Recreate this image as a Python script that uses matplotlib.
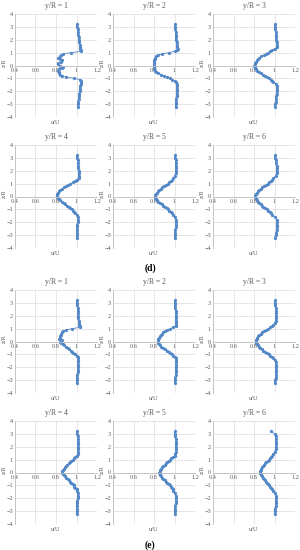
import matplotlib
matplotlib.use("Agg")
import matplotlib.pyplot as plt

# shared sampling heights z/R
z_pos = [3.2, 3.0, 2.8, 2.6, 2.4, 2.2, 2.0, 1.8, 1.6, 1.4,
         1.3, 1.2, 1.1, 1.0, 0.9, 0.8, 0.7, 0.6, 0.5, 0.4, 0.3, 0.2, 0.1, 0.0,
         -0.1, -0.2, -0.3, -0.4, -0.5, -0.6, -0.7, -0.8, -0.9, -1.0, -1.1, -1.2, -1.3,
         -1.4, -1.6, -1.8, -2.0, -2.2, -2.4, -2.6, -2.8, -3.0, -3.2]

panel_titles = ["y/R = 1", "y/R = 2", "y/R = 3", "y/R = 4", "y/R = 5", "y/R = 6"]
x_ticks = [0.4, 0.6, 0.8, 1.0, 1.2]
x_tick_labels = ["0.4", "0.6", "0.8", "1", "1.2"]
y_ticks = [-4, -3, -2, -1, 0, 1, 2, 3, 4]
group_labels = ["(d)", "(e)"]

# (d) profiles
d1 = [1.00, 1.00, 1.01, 1.01, 1.01, 1.02, 1.02, 1.02, 1.03, 1.03,
      1.03, 1.04, 1.04, 0.95, 0.87, 0.85, 0.84, 0.82, 0.84, 0.86, 0.85, 0.82, 0.82, 0.84,
      0.87, 0.86, 0.83, 0.82, 0.83, 0.83, 0.84, 0.86, 0.90, 0.98, 1.03, 1.04, 1.04,
      1.04, 1.03, 1.03, 1.03, 1.02, 1.02, 1.02, 1.01, 1.01, 1.01]
d2 = [1.00, 1.00, 1.00, 1.01, 1.01, 1.01, 1.01, 1.02, 1.02, 1.02,
      1.03, 1.02, 1.00, 0.95, 0.88, 0.84, 0.82, 0.81, 0.81, 0.80, 0.80, 0.80, 0.80, 0.80,
      0.80, 0.80, 0.80, 0.81, 0.82, 0.84, 0.87, 0.90, 0.93, 0.96, 0.98, 1.00, 1.01,
      1.02, 1.02, 1.02, 1.02, 1.02, 1.02, 1.01, 1.01, 1.01, 1.01]
d3 = [1.00, 1.00, 1.00, 1.01, 1.01, 1.01, 1.01, 1.02, 1.02, 1.02,
      1.00, 0.98, 0.96, 0.94, 0.92, 0.90, 0.87, 0.85, 0.84, 0.83, 0.82, 0.81, 0.81, 0.80,
      0.81, 0.81, 0.82, 0.83, 0.85, 0.87, 0.89, 0.91, 0.93, 0.95, 0.97, 0.98, 0.99,
      1.01, 1.02, 1.02, 1.02, 1.02, 1.01, 1.01, 1.01, 1.00, 1.00]
d4 = [1.00, 1.00, 1.01, 1.01, 1.01, 1.01, 1.02, 1.02, 1.02, 1.02,
      1.00, 0.99, 0.97, 0.94, 0.92, 0.90, 0.88, 0.86, 0.84, 0.83, 0.82, 0.81, 0.81, 0.81,
      0.82, 0.83, 0.84, 0.86, 0.88, 0.89, 0.91, 0.93, 0.94, 0.96, 0.97, 0.98, 0.99,
      1.00, 1.01, 1.01, 1.01, 1.00, 1.00, 1.00, 1.00, 1.00, 1.00]
d5 = [1.00, 1.00, 1.01, 1.01, 1.01, 1.01, 1.01, 1.01, 1.00, 0.99,
      0.98, 0.97, 0.95, 0.94, 0.92, 0.90, 0.88, 0.87, 0.85, 0.84, 0.83, 0.82, 0.81, 0.81,
      0.81, 0.82, 0.83, 0.84, 0.86, 0.88, 0.89, 0.91, 0.93, 0.94, 0.95, 0.97, 0.98,
      0.99, 1.00, 1.01, 1.01, 1.01, 1.01, 1.00, 1.00, 1.00, 1.00]
d6 = [1.00, 1.00, 1.01, 1.01, 1.02, 1.02, 1.02, 1.02, 1.01, 0.99,
      0.98, 0.97, 0.95, 0.94, 0.92, 0.90, 0.88, 0.87, 0.85, 0.84, 0.83, 0.82, 0.81, 0.81,
      0.82, 0.82, 0.83, 0.84, 0.85, 0.87, 0.88, 0.89, 0.91, 0.93, 0.94, 0.96, 0.97,
      0.98, 1.00, 1.02, 1.02, 1.02, 1.02, 1.02, 1.01, 1.01, 1.00]

# (e) profiles
e1 = [1.00, 1.00, 1.00, 1.01, 1.01, 1.01, 1.01, 1.01, 1.02, 1.02,
      1.02, 1.03, 1.03, 0.96, 0.90, 0.87, 0.86, 0.85, 0.85, 0.84, 0.84, 0.83, 0.86, 0.84,
      0.85, 0.87, 0.88, 0.90, 0.92, 0.93, 0.95, 0.96, 0.97, 0.99, 1.00, 1.01, 1.01,
      1.01, 1.01, 1.01, 1.01, 1.01, 1.01, 1.00, 1.00, 1.00, 1.00]
e2 = [1.00, 1.00, 1.00, 1.00, 1.01, 1.01, 1.01, 1.01, 1.01, 1.01,
      1.01, 1.01, 0.99, 0.96, 0.93, 0.91, 0.89, 0.88, 0.87, 0.86, 0.85, 0.84, 0.84, 0.84,
      0.84, 0.85, 0.86, 0.87, 0.89, 0.91, 0.93, 0.95, 0.96, 0.98, 0.99, 1.00, 1.01,
      1.01, 1.01, 1.01, 1.01, 1.01, 1.01, 1.01, 1.00, 1.00, 1.00]
e3 = [1.00, 1.00, 1.00, 1.01, 1.01, 1.01, 1.01, 1.01, 1.01, 1.00,
      0.99, 0.98, 0.96, 0.94, 0.92, 0.90, 0.88, 0.87, 0.85, 0.84, 0.83, 0.83, 0.82, 0.82,
      0.82, 0.83, 0.84, 0.85, 0.86, 0.88, 0.89, 0.91, 0.93, 0.95, 0.96, 0.98, 0.99,
      1.00, 1.01, 1.01, 1.01, 1.01, 1.01, 1.01, 1.01, 1.00, 1.00]
e4 = [1.00, 1.00, 1.01, 1.01, 1.01, 1.01, 1.01, 1.01, 1.01, 1.01,
      1.00, 0.99, 0.98, 0.97, 0.95, 0.94, 0.93, 0.91, 0.90, 0.89, 0.88, 0.87, 0.86, 0.86,
      0.87, 0.88, 0.89, 0.90, 0.92, 0.93, 0.94, 0.95, 0.97, 0.98, 0.98, 0.99, 1.00,
      1.00, 1.01, 1.01, 1.01, 1.00, 1.00, 1.00, 1.00, 1.00, 1.00]
e5 = [1.00, 1.00, 1.00, 1.01, 1.01, 1.01, 1.01, 1.01, 1.01, 1.00,
      1.00, 0.99, 0.97, 0.96, 0.95, 0.93, 0.92, 0.91, 0.89, 0.88, 0.87, 0.86, 0.86, 0.85,
      0.86, 0.86, 0.87, 0.88, 0.89, 0.91, 0.92, 0.93, 0.95, 0.96, 0.97, 0.98, 0.99,
      0.99, 1.00, 1.01, 1.01, 1.01, 1.01, 1.00, 1.00, 1.00, 1.00]
e6 = [0.97, 1.00, 1.01, 1.01, 1.01, 1.01, 1.01, 1.01, 1.00, 0.99,
      0.98, 0.97, 0.96, 0.95, 0.94, 0.92, 0.91, 0.90, 0.89, 0.88, 0.87, 0.87, 0.86, 0.86,
      0.87, 0.87, 0.88, 0.89, 0.90, 0.91, 0.92, 0.93, 0.94, 0.95, 0.96, 0.97, 0.98,
      0.99, 1.00, 1.01, 1.01, 1.01, 1.01, 1.01, 1.00, 1.00, 1.00]

groups = [[d1, d2, d3, d4, d5, d6], [e1, e2, e3, e4, e5, e6]]

plt.rcParams['font.family'] = ['Liberation Serif', 'DejaVu Serif']

W, H = 300, 550
fig = plt.figure(figsize=(W / 100, H / 100), dpi=100)

col_left = [15, 113, 213]
ax_w = 82
row_top = [14, 145, 290, 421]
ax_h = 103
blue = '#5287c8'
grid_c = '#dcdcdc'
axis_c = '#bfbfbf'
text_c = '#595959'


def draw_panel(ax, u_vals, title):
    ax.plot(u_vals, z_pos, '-', color=blue, lw=0.6, marker='o', ms=1.3,
            mec=blue, mfc=blue)
    ax.set_xlim(0.4, 1.2)
    ax.set_ylim(-4, 4)
    ax.set_xticks(x_ticks)
    ax.set_xticklabels(x_tick_labels)
    ax.set_yticks(y_ticks)
    ax.grid(True, color=grid_c, lw=0.5)
    ax.set_axisbelow(True)
    for s in ['top', 'right']:
        ax.spines[s].set_visible(False)
    ax.spines['bottom'].set_position(('data', 0))
    ax.spines['bottom'].set_color(axis_c)
    ax.spines['left'].set_color(axis_c)
    ax.spines['bottom'].set_linewidth(0.6)
    ax.spines['left'].set_linewidth(0.6)
    ax.tick_params(length=0, labelsize=4.5, colors=text_c, pad=1.5)
    ax.set_title(title, fontsize=5.5, color=text_c, pad=4)
    ax.text(0.5, -0.025, 'u/U', transform=ax.transAxes, ha='center', va='top',
            fontsize=4.5, color=text_c)
    ax.text(-0.13, 0.53, 'z/R', transform=ax.transAxes, ha='center', va='center',
            rotation=90, fontsize=4.5, color=text_c)


for g, profiles in enumerate(groups):
    for k, u_vals in enumerate(profiles):
        r = g * 2 + k // 3
        c = k % 3
        left = col_left[c] / W
        bottom = 1 - (row_top[r] + ax_h) / H
        ax = fig.add_axes([left, bottom, ax_w / W, ax_h / H])
        draw_panel(ax, u_vals, panel_titles[k])

fig.text(150 / W, 1 - 268 / H, group_labels[0], ha='center', va='center',
         fontsize=7, fontweight='bold')
fig.text(150 / W, 1 - 545 / H, group_labels[1], ha='center', va='center',
         fontsize=7, fontweight='bold')

fig.savefig('out.png', dpi=100, facecolor='white')
